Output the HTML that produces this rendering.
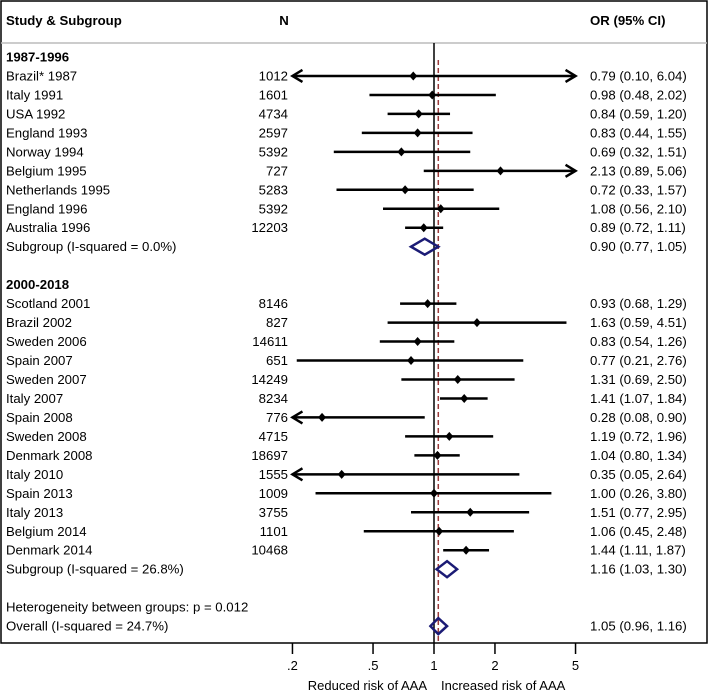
<!DOCTYPE html>
<html><head><meta charset="utf-8"><style>
body{margin:0;background:#fff;}
svg{display:block;font-family:"Liberation Sans",Arial,sans-serif;}
</style></head><body>
<svg id="chart" width="708" height="692" viewBox="0 0 708 692" xmlns="http://www.w3.org/2000/svg">
<rect x="1" y="1" width="706" height="642" fill="none" stroke="#000" stroke-width="1.5"/>
<line x1="1" y1="43" x2="707" y2="43" stroke="#bbb" stroke-width="1.5"/>
<text x="6" y="25" font-size="13.2" font-weight="bold">Study &amp; Subgroup</text>
<text x="284" y="25" font-size="13.2" font-weight="bold" text-anchor="middle">N</text>
<text x="590" y="25" font-size="13.2" font-weight="bold">OR (95% CI)</text>
<g id="marks"></g>
<g id="axis"></g>
<text x="427" y="690" font-size="13" text-anchor="end">Reduced risk of AAA</text>
<text x="441" y="690" font-size="13">Increased risk of AAA</text>
</svg>
<script>
const rowLabels=["1987-1996","Brazil* 1987","Italy 1991","USA 1992","England 1993","Norway 1994","Belgium 1995","Netherlands 1995","England 1996","Australia 1996","Subgroup (I-squared = 0.0%)","","2000-2018","Scotland 2001","Brazil 2002","Sweden 2006","Spain 2007","Sweden 2007","Italy 2007","Spain 2008","Sweden 2008","Denmark 2008","Italy 2010","Spain 2013","Italy 2013","Belgium 2014","Denmark 2014","Subgroup (I-squared = 26.8%)","","Heterogeneity between groups: p = 0.012","Overall (I-squared = 24.7%)"];
const rowTypes=["h","s","s","s","s","s","s","s","s","s","g","","h","s","s","s","s","s","s","s","s","s","s","s","s","s","s","g","","t","o"];
const nValues=["","1012","1601","4734","2597","5392","727","5283","5392","12203","","","","8146","827","14611","651","14249","8234","776","4715","18697","1555","1009","3755","1101","10468","","","",""];
const orValues=[null,0.79,0.98,0.84,0.83,0.69,2.13,0.72,1.08,0.89,0.90,null,null,0.93,1.63,0.83,0.77,1.31,1.41,0.28,1.19,1.04,0.35,1.00,1.51,1.06,1.44,1.16,null,null,1.05];
const lowValues=[null,0.10,0.48,0.59,0.44,0.32,0.89,0.33,0.56,0.72,0.77,null,null,0.68,0.59,0.54,0.21,0.69,1.07,0.08,0.72,0.80,0.05,0.26,0.77,0.45,1.11,1.03,null,null,0.96];
const highValues=[null,6.04,2.02,1.20,1.55,1.51,5.06,1.57,2.10,1.11,1.05,null,null,1.29,4.51,1.26,2.76,2.50,1.84,0.90,1.96,1.34,2.64,3.80,2.95,2.48,1.87,1.30,null,null,1.16];
const tickValues=[0.2,0.5,1,2,5];
const tickLabels=[".2",".5","1","2","5"];
const overallOR=1.05;

const NS="http://www.w3.org/2000/svg";
const X0=434,PPD=202.5,XMIN=0.2,XMAX=5;
function xs(v){return X0+PPD*Math.log10(v);}
function ys(i){return 57+18.97*i;}
function mk(tag,attrs,parent){const e=document.createElementNS(NS,tag);for(const k in attrs)e.setAttribute(k,attrs[k]);parent.appendChild(e);return e;}
const g=document.getElementById('marks');
const ax=document.getElementById('axis');

let l=mk('line',{x1:X0,y1:43,x2:X0,y2:643,stroke:'#000','stroke-width':1.5},g);


l=mk('line',{x1:xs(overallOR),y1:60,x2:xs(overallOR),y2:643,stroke:'#9b3b3b','stroke-width':1.5,'stroke-dasharray':'5,3'},g);



rowLabels.forEach((lab,i)=>{
  const y=ys(i),t=rowTypes[i];
  if(lab){
    const tx=mk('text',{x:6,y:y+4.5,'font-size':13.2},g);
    if(t==='h'){tx.setAttribute('font-weight','bold');}
    tx.textContent=lab;
    
    
  }
  if(nValues[i]){
    const tn=mk('text',{x:288,y:y+4.5,'font-size':13.2,'text-anchor':'end'},g);
    tn.textContent=nValues[i];
    
    
  }
  if(orValues[i]!=null){
    const to=mk('text',{x:590,y:y+4.5,'font-size':13.2},g);
    to.textContent=orValues[i].toFixed(2)+" ("+lowValues[i].toFixed(2)+", "+highValues[i].toFixed(2)+")";
    
    
  }
  if(t==='s'){
    const lo=Math.max(lowValues[i],XMIN),hi=Math.min(highValues[i],XMAX);
    const x1=xs(lo),x2=xs(hi);
    const ci=mk('line',{x1:x1,y1:y,x2:x2,y2:y,stroke:'#000','stroke-width':2.5},g);
    
    
    if(lowValues[i]<XMIN){
      const a=mk('polyline',{points:`${x1+10},${y-6} ${x1},${y} ${x1+10},${y+6}`,fill:'none',stroke:'#000','stroke-width':2.5},g);
      
      
    }
    if(highValues[i]>XMAX){
      const a=mk('polyline',{points:`${x2-10},${y-6} ${x2},${y} ${x2-10},${y+6}`,fill:'none',stroke:'#000','stroke-width':2.5},g);
      
      
    }
    const px=xs(orValues[i]);
    const p=mk('polygon',{points:`${px},${y-4.5} ${px+4},${y} ${px},${y+4.5} ${px-4},${y}`,fill:'#000'},g);
    
    
  }
  if(t==='g'||t==='o'){
    const a=xs(lowValues[i]),b=xs(orValues[i]),c=xs(highValues[i]);
    const d=mk('polygon',{points:`${a},${y} ${b},${y-8} ${c},${y} ${b},${y+8}`,fill:'none',stroke:'#1b1b75','stroke-width':2.5},g);
    
    
  }
});

tickValues.forEach((v,k)=>{
  const x=xs(v);
  const tk=mk('line',{x1:x,y1:643,x2:x,y2:654,stroke:'#000','stroke-width':1.5},ax);
  
  
  const tl=mk('text',{x:x,y:670,'font-size':13,'text-anchor':'middle'},ax);
  tl.textContent=tickLabels[k];
  
  
});
</script>
</body></html>
